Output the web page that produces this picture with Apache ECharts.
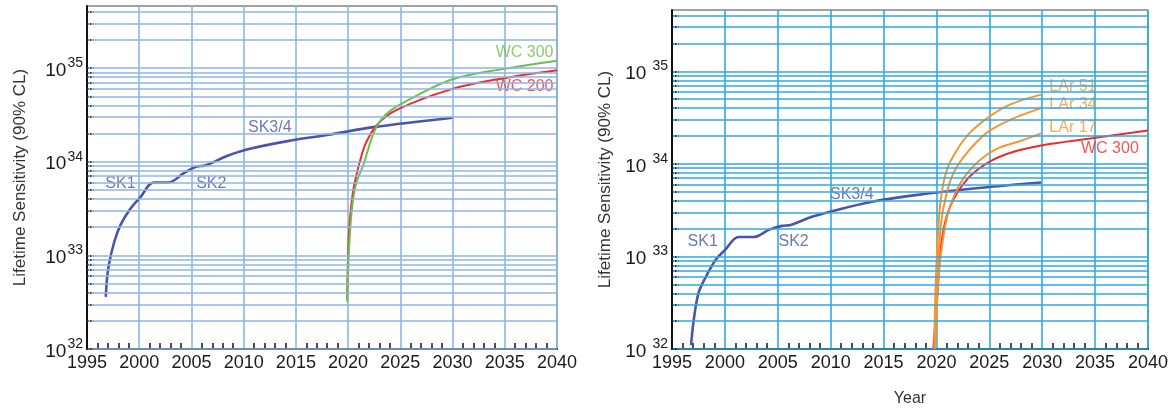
<!DOCTYPE html>
<html><head><meta charset="utf-8">
<script src="https://cdn.jsdelivr.net/npm/echarts@6/dist/echarts.min.js"></script>
<style>html,body{margin:0;padding:0;background:#fff}#c{width:1172px;height:408px}</style>
</head><body><div id="c"></div>
<script>
// ---- data (year, lifetime sensitivity in years) ----
const skLeft = [[1996.8,3.6e32],[1996.9,5.4e32],[1997.1,8.0e32],[1997.6,1.38e33],[1998.2,2.1e33],[1999.1,3.09e33],[2000.1,4.17e33],[2001.4,6.0e33],[2002.8,6.0e33],[2004.3,7.6e33],[2005.5,8.9e33],[2006.3,9.1e33],[2008.4,1.15e34],[2010.3,1.35e34],[2014.2,1.66e34],[2018.3,1.95e34],[2022.4,2.34e34],[2030.0,2.95e34]];
const wc300Left = [[2019.9,3.2e32],[2020.1,1.26e33],[2020.4,3.4e33],[2020.8,6.0e33],[2021.5,9.5e33],[2022.1,1.58e34],[2022.8,2.45e34],[2024.0,3.47e34],[2026.3,4.9e34],[2030.0,7.6e34],[2034.9,9.8e34],[2040.0,1.2e35]];
const wc200Left = [[2019.9,3.5e32],[2020.05,1.48e33],[2020.2,2.63e33],[2020.5,5.0e33],[2021.1,9.8e33],[2021.7,1.58e34],[2022.8,2.5e34],[2024.7,3.6e34],[2030.0,6.0e34],[2034.9,7.8e34],[2040.0,9.5e34]];

const skRight = [[1996.8,1.1e32],[1997.05,2.04e32],[1997.5,4.0e32],[1998.2,6.0e32],[1999.1,9.1e32],[2000.0,1.17e33],[2001.3,1.62e33],[2002.7,1.62e33],[2004.2,1.95e33],[2005.4,2.14e33],[2006.2,2.19e33],[2008.3,2.7e33],[2010.2,3.1e33],[2013.9,3.9e33],[2018.0,4.6e33],[2024.0,5.5e33],[2029.9,6.3e33]];
const lar51 = [[2019.8,1.0e32],[2019.9,4.0e32],[2020.1,1.41e33],[2020.4,4.1e33],[2021.0,8.7e33],[2022.0,1.45e34],[2023.2,2.19e34],[2025.1,3.3e34],[2027.0,4.4e34],[2029.9,5.6e34]];
const lar34 = [[2019.85,1.0e32],[2020.1,6.0e32],[2020.4,2.14e33],[2020.9,4.5e33],[2021.6,7.9e33],[2022.9,1.32e34],[2024.8,2.19e34],[2027.0,3.0e34],[2029.9,4.0e34]];
const lar17 = [[2019.9,1.05e32],[2020.2,6.0e32],[2020.7,1.78e33],[2021.3,3.47e33],[2022.3,6.3e33],[2023.8,1.02e34],[2025.7,1.45e34],[2028.0,1.78e34],[2029.9,2.14e34]];
const wc300Right = [[2019.7,1.0e32],[2020.1,4.0e32],[2020.5,1.51e33],[2021.3,3.47e33],[2022.9,6.8e33],[2024.8,1.02e34],[2027.0,1.32e34],[2029.9,1.58e34],[2034.9,1.9e34],[2040.0,2.3e34]];

// curve label anchors (year, value)
const labelsLeft = [['SK1',1998.2,5.9e33],['SK2',2006.9,5.9e33],['SK3/4',2012.5,2.29e34],['WC 300',2036.9,1.48e35],['WC 200',2036.9,6.3e34]];
const labelsRight = [['SK1',1997.9,1.45e33],['SK2',2006.5,1.45e33],['SK3/4',2012.0,4.7e33],['LAr 51',2032.9,6.8e34],['LAr 34',2032.9,4.4e34],['LAr 17',2032.9,2.45e34],['WC 300',2036.4,1.45e34]];

const yearMin = 1995, yearMax = 2040, yearStep = 5;
const sensMin = 1e32, sensMax = 4.6e35;
const yName = 'Lifetime Sensitivity (90% CL)';
const xName = 'Year';

// ---- helpers ----
const FONT = "'Liberation Sans', Arial, Helvetica, sans-serif";
const gridVals = [];
for (let n = 32; n <= 35; n++) for (let k = 1; k <= 9; k++) { const v = k * Math.pow(10, n); if (v <= sensMax) gridVals.push(v); }

const C_SK = '#4b55a8', C_GREEN = '#6dbf4b', C_RED = '#ee2b2b', C_ORANGE = '#f7952f';

function yAxisOf(i, gap) {
  return {
    type: 'log', logBase: 10, gridIndex: i, min: sensMin, max: sensMax,
    axisLine: { show: true, lineStyle: { color: '#111', width: 2 } },
    axisTick: { show: false }, splitLine: { show: false }, minorTick: { show: false }, minorSplitLine: { show: false },
    axisLabel: {
      margin: 4,
      formatter: v => { const e = Math.log10(v); const r = Math.round(e); if (Math.abs(e - r) > 1e-6) return ''; return '{b|10}{s|' + r + '}'; },
      rich: {
        b: { fontSize: 19, color: '#1a1a1a', fontFamily: FONT, lineHeight: 24, verticalAlign: 'bottom' },
        s: { fontSize: 14, color: '#1a1a1a', fontFamily: FONT, lineHeight: 24, verticalAlign: 'top', padding: [0, 0, 0, gap] }
      }
    },
    name: yName, nameLocation: 'middle', nameGap: 58,
    nameTextStyle: { fontSize: 17, color: '#333', fontFamily: FONT }
  };
}
function xAxisOf(i, color, name) {
  return {
    type: 'value', gridIndex: i, min: yearMin, max: yearMax, interval: yearStep,
    axisLine: { show: true, lineStyle: { color: '#111', width: 2 } },
    axisTick: { show: false, inside: true },
    minorTick: { show: true, splitNumber: 5, length: 6, lineStyle: { color: '#111', width: 1.5 } },
    splitLine: { show: true, lineStyle: { color: color, width: 1.6 } },
    axisLabel: { fontSize: 18, color: '#1a1a1a', fontFamily: FONT, margin: 5, formatter: v => String(v) },
    name: name, nameLocation: 'middle', nameGap: 42,
    nameTextStyle: { fontSize: 16, color: '#333', fontFamily: FONT }
  };
}
function gridSeries(i, color) {
  const lines = gridVals.map(v => ({ yAxis: v }));
  const ticks = gridVals.map(v => [{ coord: [yearMin, v], lineStyle: { color: '#111', type: 'dotted', width: 1.5 } }, { coord: [yearMin + 0.6, v] }]);
  return {
    type: 'line', xAxisIndex: i, yAxisIndex: i, data: [], silent: true, z: 1, showSymbol: false,
    markLine: { silent: true, symbol: 'none', label: { show: false }, animation: false,
      lineStyle: { color: color, width: 1.6, type: 'solid' }, data: lines.concat(ticks) }
  };
}
function curve(i, data, color, w) {
  return { type: 'line', xAxisIndex: i, yAxisIndex: i, data: data, showSymbol: false, smooth: 0.35, z: 3,
    lineStyle: { color: color, width: w } };
}
function labelSeries(i, list, colors) {
  return { type: 'scatter', xAxisIndex: i, yAxisIndex: i, symbolSize: 0, z: 4, silent: true,
    data: list.map((l, j) => ({ value: [l[1], l[2]], name: l[0],
      label: { show: true, position: 'inside', formatter: l[0], color: colors[j], fontSize: 16, fontFamily: FONT } })) };
}

const chart = echarts.init(document.getElementById('c'));
chart.setOption({
  animation: false,
  backgroundColor: '#fff',
  grid: [
    { left: 87, right: 615, top: 6, bottom: 59, show: true, borderColor: '#444', borderWidth: 1, outerBoundsMode: 'none', containLabel: false },
    { left: 672, right: 24, top: 10, bottom: 59, show: true, borderColor: '#444', borderWidth: 1, outerBoundsMode: 'none', containLabel: false }
  ],
  xAxis: [xAxisOf(0, '#8cb6e6', ''), xAxisOf(1, '#2faae2', xName)],
  yAxis: [yAxisOf(0, 1), yAxisOf(1, 6)],
  series: [
    gridSeries(0, '#8cb6e6'), gridSeries(1, '#2faae2'),
    curve(0, skLeft, C_SK, 2.6), curve(0, wc200Left, C_RED, 2), curve(0, wc300Left, C_GREEN, 2),
    curve(1, skRight, C_SK, 2.6), curve(1, wc300Right, C_RED, 2), curve(1, lar17, C_ORANGE, 2), curve(1, lar34, C_ORANGE, 2), curve(1, lar51, C_ORANGE, 2),
    labelSeries(0, labelsLeft, [C_SK, C_SK, C_SK, C_GREEN, C_RED]),
    labelSeries(1, labelsRight, [C_SK, C_SK, C_SK, C_ORANGE, C_ORANGE, C_ORANGE, C_RED])
  ]
});
</script></body></html>
